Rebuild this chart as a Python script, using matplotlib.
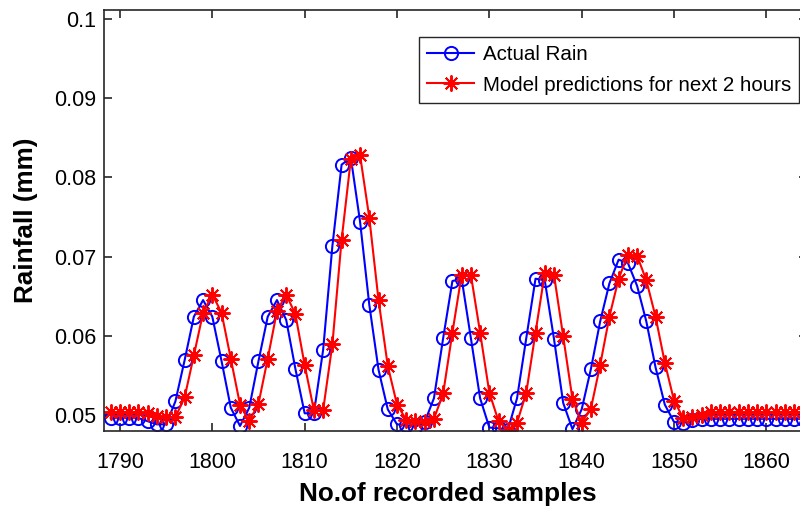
import numpy as np
import matplotlib
matplotlib.use("Agg")
import matplotlib.pyplot as plt

plt.rcParams['font.family'] = ['Liberation Sans', 'DejaVu Sans']

# Sample indices
samples = list(range(1789, 1865))

# Observed rainfall (mm)
actual_rain = [
    0.0496, 0.0496, 0.0496, 0.0496, 0.0492, 0.0488, 0.0488, 0.0517, 0.0569, 0.0624,
    0.0645, 0.0624, 0.0568, 0.0509, 0.0486, 0.0509, 0.0568, 0.0624, 0.0645, 0.0620,
    0.0558, 0.0502, 0.0502, 0.0582, 0.0713, 0.0816, 0.0825, 0.0744, 0.0639, 0.0557,
    0.0507, 0.0488, 0.0487, 0.0485, 0.0491, 0.0521, 0.0597, 0.0669, 0.0672, 0.0597,
    0.0521, 0.0484, 0.0483, 0.0481, 0.0521, 0.0597, 0.0672, 0.0670, 0.0596, 0.0515,
    0.0482, 0.0507, 0.0558, 0.0618, 0.0666, 0.0696, 0.0692, 0.0663, 0.0618, 0.0560,
    0.0513, 0.0491, 0.0490, 0.0493, 0.0495, 0.0495, 0.0495, 0.0495, 0.0495, 0.0495,
    0.0495, 0.0495, 0.0495, 0.0495, 0.0495, 0.0495,
]

# Model output, two hours ahead (mm)
predicted_rain = [
    0.0503, 0.0503, 0.0503, 0.0503, 0.0502, 0.0498, 0.0497, 0.0497, 0.0522, 0.0575,
    0.0629, 0.0652, 0.0629, 0.0571, 0.0513, 0.0492, 0.0514, 0.0571, 0.0631, 0.0652,
    0.0627, 0.0563, 0.0506, 0.0506, 0.0589, 0.0721, 0.0823, 0.0828, 0.0749, 0.0645,
    0.0562, 0.0513, 0.0494, 0.0492, 0.0491, 0.0495, 0.0527, 0.0604, 0.0677, 0.0677,
    0.0604, 0.0528, 0.0492, 0.0481, 0.0490, 0.0528, 0.0604, 0.0679, 0.0677, 0.0599,
    0.0520, 0.0490, 0.0508, 0.0563, 0.0624, 0.0672, 0.0702, 0.0701, 0.0670, 0.0624,
    0.0566, 0.0518, 0.0496, 0.0497, 0.0500, 0.0503, 0.0503, 0.0503, 0.0503, 0.0503,
    0.0503, 0.0503, 0.0503, 0.0503, 0.0503, 0.0503,
]

x_ticks = [1790, 1800, 1810, 1820, 1830, 1840, 1850, 1860]
y_ticks = [0.05, 0.06, 0.07, 0.08, 0.09, 0.1]
y_tick_labels = ["0.05", "0.06", "0.07", "0.08", "0.09", "0.1"]

W, H = 800, 508
fig = plt.figure(figsize=(W / 100, H / 100), dpi=100)
left_px, right_px, top_px, bottom_px = 104, 807, 10, 430.7
ax = fig.add_axes([left_px / W, 1 - bottom_px / H,
                   (right_px - left_px) / W, (bottom_px - top_px) / H])

ax.plot(samples, actual_rain, color=(0, 0, 1), lw=1.5, marker='o',
        markersize=9.5, markerfacecolor='none', markeredgewidth=1.4,
        label='Actual Rain')
ax.plot(samples, predicted_rain, color=(1, 0, 0), lw=1.5, marker=(8, 2, 0),
        markersize=11.5, markeredgewidth=1.4,
        label='Model predictions for next 2 hours')

ax.set_xlim(1788.27, 1864.4)
ax.set_ylim(0.048, 0.10114)
ax.set_xticks(x_ticks)
ax.set_yticks(y_ticks)
ax.set_yticklabels(y_tick_labels)

axis_color = '#262626'
for sp in ax.spines.values():
    sp.set_color(axis_color)
    sp.set_linewidth(1.2)
ax.tick_params(direction='in', length=6, width=1.2, colors=axis_color,
               labelsize=15.5, top=True, right=True)
ax.tick_params(axis='x', pad=15)
ax.tick_params(axis='y', pad=5.5)
for lab in ax.get_xticklabels() + ax.get_yticklabels():
    lab.set_color('black')

ax.set_xlabel('No.of recorded samples', fontsize=18.8, fontweight='bold')
ax.set_ylabel('Rainfall (mm)', fontsize=18.8, fontweight='bold')
plot_w = right_px - left_px
plot_h = bottom_px - top_px
ax.xaxis.set_label_coords((447.5 - left_px) / plot_w, (bottom_px - 481.7) / plot_h)
ax.yaxis.set_label_coords((38.5 - left_px) / plot_w, 0.5)

leg = ax.legend(loc='upper right', bbox_to_anchor=(799 / W, 1 - 37 / H),
                bbox_transform=fig.transFigure, borderaxespad=0,
                fancybox=False, edgecolor=axis_color, fontsize=14.8,
                handlelength=2.3, framealpha=1, borderpad=0.4,
                labelspacing=0.55, handletextpad=0.4)
leg.get_frame().set_linewidth(1.0)

fig.savefig('out.png', dpi=100)
